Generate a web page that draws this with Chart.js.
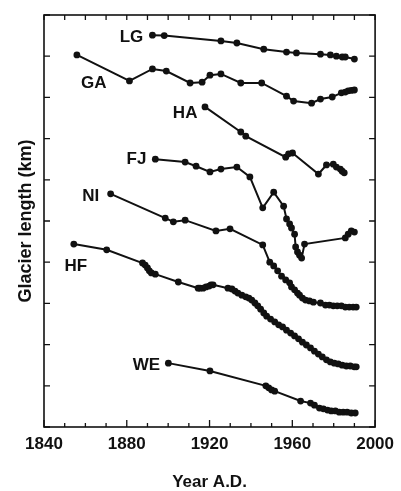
<!DOCTYPE html>
<html>
<head>
<meta charset="utf-8">
<script src="https://cdn.jsdelivr.net/npm/chart.js@4.4.0/dist/chart.umd.min.js"></script>
<style>
  body { margin: 0; background: #fff; }
  #box { width: 401px; height: 491px; }
</style>
</head>
<body>
<div id="box"><canvas id="glaciers" width="401" height="491"></canvas></div>
<script>
// values (years A.D., relative length, axis has no numbers)
const yearLabels = [1840, 1880, 1920, 1960, 2000];

const lgYears = [1892.4, 1898.1, 1925.5, 1933.2, 1946.2, 1957.2, 1962.0, 1973.6, 1978.4, 1981.3, 1984.1, 1985.6, 1990.0];
const lgLength = [9.51, 9.50, 9.37, 9.32, 9.17, 9.10, 9.08, 9.05, 9.03, 9.00, 8.98, 8.98, 8.93];

const gaYears = [1855.9, 1881.3, 1892.4, 1899.1, 1910.6, 1916.4, 1920.2, 1925.5, 1935.1, 1945.2, 1957.2, 1960.6, 1969.3, 1973.6, 1979.3, 1983.7, 1985.6, 1987.0, 1988.5, 1990.0];
const gaLength = [9.03, 8.40, 8.69, 8.64, 8.35, 8.37, 8.54, 8.57, 8.35, 8.35, 8.03, 7.91, 7.86, 7.96, 8.01, 8.11, 8.13, 8.16, 8.17, 8.18];

const haYears = [1917.8, 1935.1, 1937.5, 1956.8, 1958.2, 1960.1, 1972.6, 1976.5, 1979.8, 1981.3, 1983.2, 1984.1, 1985.1];
const haLength = [7.77, 7.16, 7.06, 6.55, 6.63, 6.65, 6.14, 6.36, 6.38, 6.31, 6.26, 6.21, 6.17];

const fjYears = [1893.8, 1908.2, 1913.5, 1920.2, 1925.5, 1933.2, 1939.5, 1945.7, 1951.0, 1955.8, 1957.2, 1958.7, 1959.6, 1961.1, 1961.6, 1962.5, 1963.5, 1964.5, 1965.9, 1985.6, 1987.0, 1988.5, 1990.0];
const fjLength = [6.50, 6.43, 6.33, 6.19, 6.26, 6.31, 6.07, 5.32, 5.70, 5.36, 5.05, 4.93, 4.83, 4.68, 4.37, 4.25, 4.17, 4.10, 4.44, 4.59, 4.68, 4.76, 4.73];

const niYears = [1872.2, 1898.6, 1902.5, 1908.2, 1923.1, 1929.9, 1945.7, 1949.1, 1951.0, 1952.9, 1954.8, 1956.8, 1958.7, 1959.6, 1961.1, 1962.5, 1963.5, 1964.9, 1966.4, 1968.3, 1970.2, 1973.6, 1976.0, 1977.9, 1979.8, 1981.7, 1983.7, 1985.6, 1987.5, 1989.4, 1990.9];
const niLength = [5.66, 5.07, 4.98, 5.02, 4.76, 4.81, 4.42, 4.00, 3.91, 3.79, 3.66, 3.57, 3.50, 3.40, 3.33, 3.25, 3.20, 3.13, 3.08, 3.06, 3.03, 3.01, 2.96, 2.96, 2.94, 2.94, 2.94, 2.91, 2.91, 2.91, 2.91];

const hfYears = [1854.4, 1870.3, 1887.6, 1888.9, 1890.0, 1890.9, 1891.9, 1893.8, 1904.9, 1914.5, 1915.4, 1916.9, 1918.3, 1919.8, 1920.7, 1921.7, 1928.9, 1930.8, 1932.3, 1933.7, 1935.6, 1937.5, 1939.0, 1940.4, 1941.9, 1943.3, 1944.7, 1946.2, 1947.6, 1949.5, 1951.5, 1953.4, 1955.3, 1957.2, 1959.2, 1961.1, 1963.0, 1964.9, 1966.8, 1968.8, 1970.7, 1972.6, 1974.5, 1976.5, 1978.4, 1980.3, 1982.2, 1984.1, 1986.1, 1988.0, 1989.9, 1990.9];
const hfLength = [4.44, 4.30, 3.98, 3.93, 3.86, 3.79, 3.74, 3.71, 3.52, 3.37, 3.37, 3.37, 3.40, 3.42, 3.45, 3.45, 3.37, 3.35, 3.30, 3.25, 3.20, 3.16, 3.13, 3.08, 3.01, 2.94, 2.86, 2.77, 2.69, 2.62, 2.55, 2.48, 2.43, 2.35, 2.28, 2.21, 2.14, 2.06, 1.99, 1.92, 1.84, 1.77, 1.70, 1.63, 1.58, 1.55, 1.53, 1.50, 1.48, 1.48, 1.46, 1.46];

const weYears = [1900.1, 1920.2, 1947.2, 1948.6, 1950.0, 1951.5, 1964.0, 1968.8, 1970.7, 1973.1, 1975.0, 1977.0, 1978.8, 1980.8, 1982.7, 1984.6, 1986.5, 1988.5, 1990.4];
const weLength = [1.55, 1.36, 1.00, 0.95, 0.90, 0.87, 0.63, 0.58, 0.53, 0.46, 0.44, 0.41, 0.39, 0.39, 0.36, 0.36, 0.36, 0.34, 0.34];

// glacier names and where they sit (year, length)
const glacierNames = ['LG', 'GA', 'HA', 'FJ', 'NI', 'HF', 'WE'];
const nameYears = [1882.3, 1864.0, 1908.2, 1884.7, 1862.6, 1855.4, 1889.5];
const nameLength = [9.47, 8.33, 7.62, 6.50, 5.61, 3.91, 1.50];

const series = [
  [lgYears, lgLength], [gaYears, gaLength], [haYears, haLength], [fjYears, fjLength],
  [niYears, niLength], [hfYears, hfLength], [weYears, weLength]
];

const toPoints = (xs, ys) => xs.map((x, i) => ({ x: x, y: ys[i] }));

const datasets = series.map((s, i) => ({
  label: glacierNames[i],
  data: toPoints(s[0], s[1]),
  showLine: true,
  borderColor: '#111',
  borderWidth: 2,
  backgroundColor: '#111',
  pointRadius: 3.4,
  pointBorderWidth: 0,
  pointHoverRadius: 3.4
}));

// frame round the plot with ticks pointing inwards on all four sides
const frame = {
  id: 'frame',
  afterDatasetsDraw(chart) {
    const ctx = chart.ctx;
    const a = chart.chartArea;
    const xs = chart.scales.x;
    const ys = chart.scales.y;
    ctx.save();
    ctx.strokeStyle = '#111';
    ctx.lineWidth = 1.6;
    ctx.strokeRect(a.left, a.top, a.right - a.left, a.bottom - a.top);
    ctx.lineWidth = 1.3;
    ctx.beginPath();
    xs.ticks.forEach(t => {
      const px = xs.getPixelForValue(t.value);
      const len = yearLabels.includes(t.value) ? 7 : 4;
      ctx.moveTo(px, a.bottom);
      ctx.lineTo(px, a.bottom - len);
      ctx.moveTo(px, a.top);
      ctx.lineTo(px, a.top + 5);
    });
    ys.ticks.forEach(t => {
      const py = ys.getPixelForValue(t.value);
      ctx.moveTo(a.left, py);
      ctx.lineTo(a.left + 6, py);
      ctx.moveTo(a.right, py);
      ctx.lineTo(a.right - 6, py);
    });
    ctx.stroke();
    ctx.restore();
  }
};

const names = {
  id: 'names',
  afterDraw(chart) {
    const ctx = chart.ctx;
    ctx.save();
    ctx.fillStyle = '#111';
    ctx.font = 'bold 17px "Liberation Sans", Arial, sans-serif';
    ctx.textAlign = 'center';
    ctx.textBaseline = 'middle';
    glacierNames.forEach((n, i) => {
      ctx.fillText(n, chart.scales.x.getPixelForValue(nameYears[i]), chart.scales.y.getPixelForValue(nameLength[i]));
    });
    ctx.restore();
  }
};

const glaciers = new Chart(document.getElementById('glaciers').getContext('2d'), {
  type: 'scatter',
  data: { datasets: datasets },
  options: {
    responsive: false,
    animation: false,
    layout: { padding: { top: 15, right: 23, left: 0, bottom: 0 } },
    plugins: { legend: { display: false }, tooltip: { enabled: false } },
    scales: {
      x: {
        min: 1840,
        max: 2000,
        grid: { display: false, drawTicks: false },
        border: { display: false },
        ticks: {
          stepSize: 10,
          autoSkip: false,
          maxRotation: 0,
          padding: 7,
          color: '#111',
          font: { family: '"Liberation Sans", Arial, sans-serif', size: 17, weight: 'bold' },
          callback: (v) => yearLabels.includes(v) ? String(v) : ''
        },
        title: {
          display: true,
          text: 'Year A.D.',
          color: '#111',
          padding: { top: 0, bottom: 0 },
          font: { family: '"Liberation Sans", Arial, sans-serif', size: 17, weight: 'bold', lineHeight: 1 }
        },
        afterFit: (scale) => { scale.height = 64; }
      },
      y: {
        min: 0,
        max: 10,
        grid: { display: false, drawTicks: false },
        border: { display: false },
        ticks: { stepSize: 1, display: false },
        title: {
          display: true,
          text: 'Glacier length (km)',
          color: '#111',
          padding: { top: 15, bottom: 0 },
          font: { family: '"Liberation Sans", Arial, sans-serif', size: 18, weight: 'bold' }
        },
        afterFit: (scale) => { scale.width = 44; }
      }
    }
  },
  plugins: [frame, names]
});
</script>
</body>
</html>
